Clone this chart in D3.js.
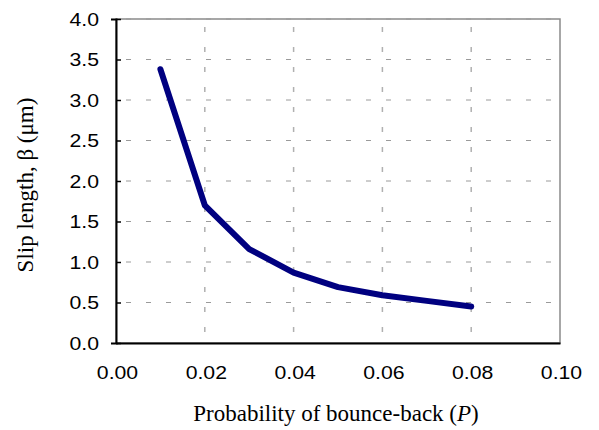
<!DOCTYPE html>
<html>
<head>
<meta charset="utf-8">
<script src="https://cdn.jsdelivr.net/npm/d3@7"></script>
<style>
  body { margin: 0; background: #fff; }
  svg { display: block; }
</style>
</head>
<body>
<svg id="chart" width="599" height="430"></svg>
<script>
// data
const prob = [0.01, 0.02, 0.03, 0.04, 0.05, 0.06, 0.07, 0.08];
const slip = [3.38, 1.70, 1.16, 0.87, 0.69, 0.59, 0.52, 0.45];
const x_ticks = [0, 0.02, 0.04, 0.06, 0.08, 0.10];
const y_ticks = [0, 0.5, 1.0, 1.5, 2.0, 2.5, 3.0, 3.5, 4.0];

const svg = d3.select('#chart');
const mar = {left: 116, top: 19, right: 39, bottom: 87};
const w = 599 - mar.left - mar.right,
      h = 430 - mar.top - mar.bottom;

const x = d3.scaleLinear().domain([0, 0.10]).range([0, w]);
const y = d3.scaleLinear().domain([0, 4.0]).range([h, 0]);

const g = svg.append('g').attr('transform', `translate(${mar.left},${mar.top})`);

// frame (top/right grey)
g.append('rect')
  .attr('x', 0).attr('y', 0).attr('width', w).attr('height', h)
  .attr('fill', 'none').attr('stroke', '#8a8a8a').attr('stroke-width', 1.5);

// grid
g.append('g').selectAll('line.gy')
  .data(y_ticks.filter(d => d > 0))
  .join('line')
  .attr('x1', 0).attr('x2', w)
  .attr('y1', d => y(d)).attr('y2', d => y(d))
  .attr('stroke', '#9a9a9a').attr('stroke-width', 1)
  .attr('stroke-dasharray', '5,15').attr('stroke-dashoffset', -10);

g.append('g').selectAll('line.gx')
  .data(x_ticks.filter(d => d > 0 && d < 0.1))
  .join('line')
  .attr('x1', d => x(d)).attr('x2', d => x(d))
  .attr('y1', 0).attr('y2', h)
  .attr('stroke', '#b0b0b0').attr('stroke-width', 1.5)
  .attr('stroke-dasharray', '5,15').attr('stroke-dashoffset', -8);

// axes
const ax_b = g.append('g').attr('transform', `translate(0,${h})`)
  .call(d3.axisBottom(x).tickValues(x_ticks).tickFormat(d3.format('.2f')).tickSize(0));
const ax_l = g.append('g')
  .call(d3.axisLeft(y).tickValues(y_ticks).tickFormat(d3.format('.1f')).tickSize(5));

// tick labels: Arial drawn a bit wide in the reference
const sx = 1.18;
[ax_b, ax_l].forEach(a => {
  a.select('.domain').attr('stroke', '#000').attr('stroke-width', 2);
  a.selectAll('text').style('font-family', 'Liberation Sans, Arial, sans-serif')
    .style('font-size', '18px').attr('fill', '#000')
    .attr('x', 0).attr('dy', null);
});
ax_b.selectAll('.tick text')
  .attr('y', 0).attr('dominant-baseline', 'central')
  .attr('transform', `translate(1,30) scale(${sx},1)`);
ax_l.selectAll('.tick text')
  .attr('dominant-baseline', 'central')
  .attr('transform', `translate(-17,0) scale(${sx},1)`);
ax_l.selectAll('.tick line').attr('stroke', '#000').attr('stroke-width', 1.5)
  .attr('x2', 5).attr('x1', 0);

// line
const line = d3.line()
  .x((d, i) => x(prob[i]))
  .y(d => y(d));

g.append('path')
  .datum(slip)
  .attr('fill', 'none')
  .attr('stroke', '#000080')
  .attr('stroke-width', 6)
  .attr('stroke-linecap', 'round')
  .attr('stroke-linejoin', 'round')
  .attr('d', line);

// axis titles
svg.append('text')
  .attr('x', 336).attr('y', 421)
  .attr('text-anchor', 'middle')
  .style('font-family', 'Liberation Serif, Times New Roman, serif')
  .style('font-size', '23px')
  .html('Probability of bounce-back (<tspan font-style="italic">P</tspan>)');

svg.append('text')
  .attr('transform', 'translate(33,185) rotate(-90)')
  .attr('text-anchor', 'middle')
  .style('font-family', 'Liberation Serif, Times New Roman, serif')
  .style('font-size', '23px')
  .text('Slip length, β (μm)');
</script>
</body>
</html>
